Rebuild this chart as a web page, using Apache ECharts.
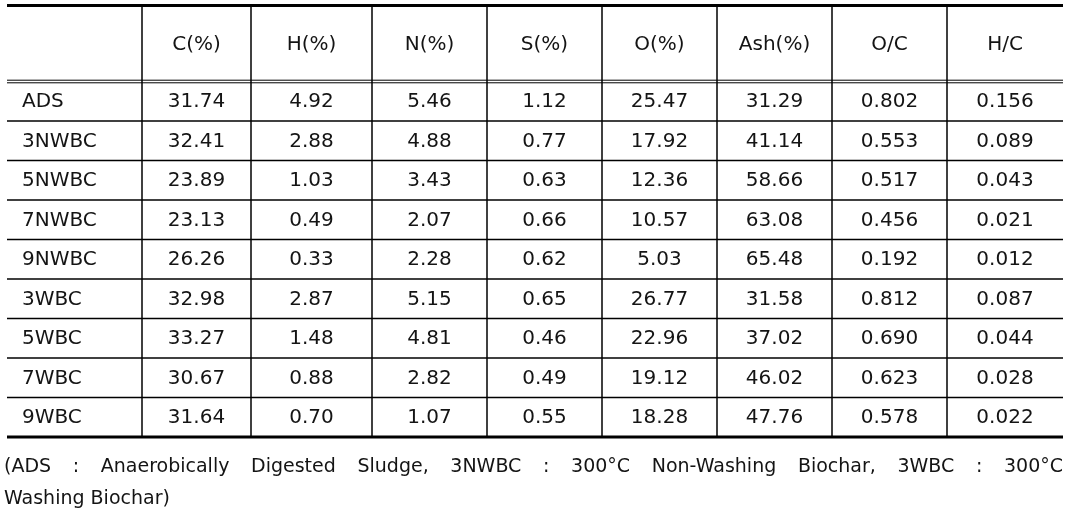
<!DOCTYPE html>
<html>
<head>
<meta charset="utf-8">
<script src="https://cdn.jsdelivr.net/npm/echarts@6/dist/echarts.min.js"></script>
<style>
  html, body { margin: 0; padding: 0; background: #fff; }
  #main { width: 1077px; height: 510px; }
</style>
</head>
<body>
<div id="main"></div>
<script>
// table contents
var columns = ['', 'C(%)', 'H(%)', 'N(%)', 'S(%)', 'O(%)', 'Ash(%)', 'O/C', 'H/C'];
var samples = ['ADS', '3NWBC', '5NWBC', '7NWBC', '9NWBC', '3WBC', '5WBC', '7WBC', '9WBC'];
var carbon = [31.74, 32.41, 23.89, 23.13, 26.26, 32.98, 33.27, 30.67, 31.64];
var hydrogen = [4.92, 2.88, 1.03, 0.49, 0.33, 2.87, 1.48, 0.88, 0.70];
var nitrogen = [5.46, 4.88, 3.43, 2.07, 2.28, 5.15, 4.81, 2.82, 1.07];
var sulfur = [1.12, 0.77, 0.63, 0.66, 0.62, 0.65, 0.46, 0.49, 0.55];
var oxygen = [25.47, 17.92, 12.36, 10.57, 5.03, 26.77, 22.96, 19.12, 18.28];
var ash = [31.29, 41.14, 58.66, 63.08, 65.48, 31.58, 37.02, 46.02, 47.76];
var ocRatio = [0.802, 0.553, 0.517, 0.456, 0.192, 0.812, 0.690, 0.623, 0.578];
var hcRatio = [0.156, 0.089, 0.043, 0.021, 0.012, 0.087, 0.044, 0.028, 0.022];
var decimals = [2, 2, 2, 2, 2, 2, 3, 3];
var footLine1 = '(ADS : Anaerobically Digested Sludge, 3NWBC : 300°C Non-Washing Biochar, 3WBC : 300°C';
var footLine2 = 'Washing Biochar)';

// layout
var colWidths = [135, 109, 121, 115, 115, 115, 115, 115, 116];
var headerHeight = 76;
var rowHeight = 39.5;
var fontTable = '20px "DejaVu Sans"';
var fontFoot = '19px "DejaVu Sans"';
var textColor = '#141414';

var valueCols = [carbon, hydrogen, nitrogen, sulfur, oxygen, ash, ocRatio, hcRatio];

var xEdges = [0];
colWidths.forEach(function (w) { xEdges.push(xEdges[xEdges.length - 1] + w); });
var yEdges = [0, headerHeight];
samples.forEach(function () { yEdges.push(yEdges[yEdges.length - 1] + rowHeight); });
var totalW = xEdges[xEdges.length - 1];
var totalH = yEdges[yEdges.length - 1];

// cell items: [col, row], text kept aside
var cellData = [];
var cellText = [];
columns.forEach(function (name, c) {
    cellData.push([c, 0]);
    cellText.push(name);
});
samples.forEach(function (s, r) {
    cellData.push([0, r + 1]);
    cellText.push(s);
    valueCols.forEach(function (arr, k) {
        cellData.push([k + 1, r + 1]);
        cellText.push(arr[r].toFixed(decimals[k]));
    });
});

// rule items: [kind, index]  kind 0 = horizontal, 1 = vertical
var ruleData = [];
yEdges.forEach(function (y, i) { ruleData.push([0, i]); });
for (var i = 1; i < xEdges.length - 1; i++) ruleData.push([1, i]);

// footnote, justified first line
var ctx = document.createElement('canvas').getContext('2d');
ctx.font = fontFoot;
var words = footLine1.split(' ');
var wordsW = 0;
words.forEach(function (w) { wordsW += ctx.measureText(w).width; });
var footLeft = 4, footRight = 1063;
var gap = (footRight - footLeft - wordsW) / (words.length - 1);
var footGraphics = [];
var fx = footLeft;
words.forEach(function (w) {
    footGraphics.push({
        type: 'text', left: fx, top: 458,
        style: { text: w, font: fontFoot, fill: textColor }
    });
    fx += ctx.measureText(w).width + gap;
});
footGraphics.push({
    type: 'text', left: footLeft, top: 490,
    style: { text: footLine2, font: fontFoot, fill: textColor }
});

var myChart = echarts.init(document.getElementById('main'));
myChart.setOption({
    animation: false,
    grid: { left: 7, top: 5.5, width: totalW, height: totalH },
    xAxis: { type: 'value', min: 0, max: totalW, show: false },
    yAxis: { type: 'value', min: 0, max: totalH, inverse: true, show: false },
    graphic: footGraphics,
    series: [{
        type: 'custom',
        name: 'rules',
        data: ruleData,
        silent: true,
        renderItem: function (params, api) {
            var kind = api.value(0), idx = api.value(1);
            var lines = [];
            if (kind === 0) {
                var a = api.coord([0, yEdges[idx]]);
                var b = api.coord([totalW, yEdges[idx]]);
                if (idx === 0 || idx === yEdges.length - 1) {
                    lines.push({ y: a[1], w: 3 });
                } else if (idx === 1) {
                    lines.push({ y: a[1] - 1.3, w: 1 });
                    lines.push({ y: a[1] + 1.3, w: 1 });
                } else {
                    lines.push({ y: a[1], w: 1.3 });
                }
                return {
                    type: 'group',
                    children: lines.map(function (l) {
                        return {
                            type: 'line',
                            shape: { x1: a[0], y1: l.y, x2: b[0], y2: l.y },
                            style: { stroke: '#000', lineWidth: l.w }
                        };
                    })
                };
            }
            var t = api.coord([xEdges[idx], 0]);
            var e = api.coord([xEdges[idx], totalH]);
            return {
                type: 'line',
                shape: { x1: t[0], y1: t[1], x2: e[0], y2: e[1] },
                style: { stroke: '#000', lineWidth: 1.5 }
            };
        }
    }, {
        type: 'custom',
        name: 'cells',
        data: cellData,
        silent: true,
        renderItem: function (params, api) {
            var c = api.value(0), r = api.value(1);
            var p0 = api.coord([xEdges[c], yEdges[r]]);
            var p1 = api.coord([xEdges[c + 1], yEdges[r + 1]]);
            var left = c === 0;
            return {
                type: 'text',
                style: {
                    text: cellText[params.dataIndex],
                    x: left ? p0[0] + 15 : (p0[0] + p1[0]) / 2,
                    y: (p0[1] + p1[1]) / 2 + 1,
                    align: left ? 'left' : 'center',
                    verticalAlign: 'middle',
                    font: fontTable,
                    fill: textColor
                }
            };
        }
    }]
});
</script>
</body>
</html>
